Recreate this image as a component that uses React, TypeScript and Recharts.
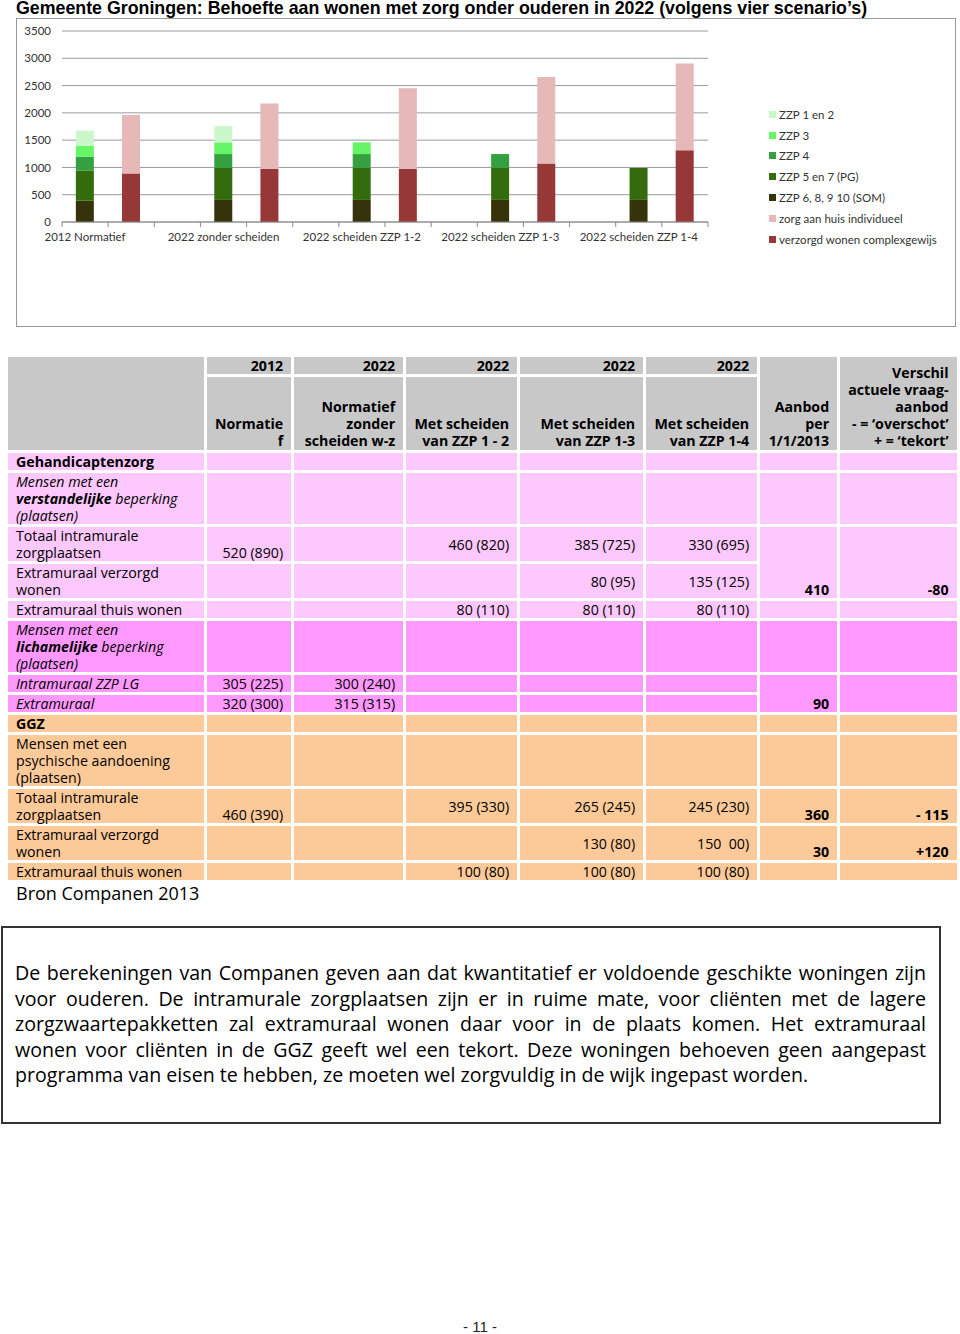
import React from 'react';
import { BarChart, Bar, XAxis, YAxis, CartesianGrid } from 'recharts';

// 14 categories: per scenario a green bar, a red bar and an empty spacer
const categories = [
  '2012 Normatief', '', '',
  '2022 zonder scheiden', '', '',
  '2022 scheiden ZZP 1-2', '', '',
  '2022 scheiden ZZP 1-3', '', '',
  '2022 scheiden ZZP 1-4', '',
];

const zzpSom = [390, 0, 0, 405, 0, 0, 405, 0, 0, 405, 0, 0, 405, 0];
const zzp5en7 = [555, 0, 0, 585, 0, 0, 585, 0, 0, 585, 0, 0, 585, 0];
const zzp4 = [250, 0, 0, 255, 0, 0, 255, 0, 0, 255, 0, 0, 0, 0];
const zzp3 = [205, 0, 0, 215, 0, 0, 215, 0, 0, 0, 0, 0, 0, 0];
const zzp1en2 = [275, 0, 0, 300, 0, 0, 0, 0, 0, 0, 0, 0, 0, 0];
const verzorgdWonen = [0, 890, 0, 0, 970, 0, 0, 970, 0, 0, 1070, 0, 0, 1315];
const zorgAanHuis = [0, 1070, 0, 0, 1200, 0, 0, 1480, 0, 0, 1585, 0, 0, 1590];

const yTicks = [0, 500, 1000, 1500, 2000, 2500, 3000, 3500];

// stacking order, bottom to top
const series = [
  { key: 'som', name: 'ZZP 6, 8, 9 10 (SOM)', color: '#36330a', values: zzpSom },
  { key: 'zzp57', name: 'ZZP 5 en 7 (PG)', color: '#336b0d', values: zzp5en7 },
  { key: 'zzp4', name: 'ZZP 4', color: '#35a040', values: zzp4 },
  { key: 'zzp3', name: 'ZZP 3', color: '#66f566', values: zzp3 },
  { key: 'zzp12', name: 'ZZP 1 en 2', color: '#cbf8cb', values: zzp1en2 },
  { key: 'verzorgd', name: 'verzorgd wonen complexgewijs', color: '#973838', values: verzorgdWonen },
  { key: 'zorg', name: 'zorg aan huis individueel', color: '#e6b8b8', values: zorgAanHuis },
];

const legendOrder = ['zzp12', 'zzp3', 'zzp4', 'zzp57', 'som', 'zorg', 'verzorgd'];

const data = categories.map((label, i) => {
  const row: Record<string, any> = { label };
  series.forEach((s) => (row[s.key] = s.values[i]));
  return row;
});

const CHART_W = 938;
const CHART_H = 307;
const MARGIN = { top: 12, right: 247, left: 10, bottom: 74 };
const Y_W = 35;
const PLOT_W = CHART_W - MARGIN.left - MARGIN.right - Y_W;
const CHART_FONT = 'Lato, "Open Sans", sans-serif';
const CHART_FS = 11.5;

function XTick({ x, y, payload, index }: any) {
  const bw = PLOT_W / categories.length;
  return (
    <g>
      <line x1={x - bw / 2} y1={y} x2={x - bw / 2} y2={y + 5} stroke="#8a8a8a" />
      {index === categories.length - 1 && (
        <line x1={x + bw / 2} y1={y} x2={x + bw / 2} y2={y + 5} stroke="#8a8a8a" />
      )}
      <text x={x} y={y + 19} textAnchor="middle" fontSize={CHART_FS} fill="#333" fontFamily={CHART_FONT}>
        {payload.value}
      </text>
    </g>
  );
}

function ChartLegend() {
  return (
    <div style={{ position: 'absolute', left: 752, top: 85, fontFamily: CHART_FONT, fontSize: CHART_FS, color: '#333' }}>
      {legendOrder.map((k) => {
        const s = series.find((x) => x.key === k)!;
        return (
          <div key={k} style={{ display: 'flex', alignItems: 'center', height: 20.8 }}>
            <span style={{ width: 7, height: 7, background: s.color, marginRight: 3 }} />
            <span>{s.name}</span>
          </div>
        );
      })}
    </div>
  );
}

const SANS = '"Open Sans", "Noto Sans", sans-serif';
const GRAY = '#c8c8c8';
const PINK = '#fdc8fd';
const PINK2 = '#ff99ff';
const PEACH = '#fcc998';

const td = (bg: string, extra: React.CSSProperties = {}): React.CSSProperties => ({
  background: bg,
  padding: '0 8px',
  textAlign: 'right',
  verticalAlign: 'middle',
  whiteSpace: 'pre',
  ...extra,
});
const lbl = (bg: string, extra: React.CSSProperties = {}) => td(bg, { textAlign: 'left', verticalAlign: 'top', ...extra });
const bot = (bg: string, extra: React.CSSProperties = {}) => td(bg, { verticalAlign: 'bottom', ...extra });
const hd = (extra: React.CSSProperties = {}) => td(GRAY, { fontWeight: 700, verticalAlign: 'bottom', ...extra });

function DataTable() {
  const colW = [196, 84, 109, 111, 123, 111, 77, 116];
  return (
    <table
      style={{
        position: 'absolute', left: 5, top: 354, borderCollapse: 'separate', borderSpacing: 3,
        tableLayout: 'fixed', fontFamily: SANS, fontSize: 14.2, lineHeight: '17px', color: '#000',
      }}
    >
      <colgroup>
        {colW.map((w, i) => <col key={i} style={{ width: w }} />)}
      </colgroup>
      <tbody>
        <tr style={{ height: 16 }}>
          <td rowSpan={2} style={td(GRAY)} />
          <td style={hd()}>2012</td>
          <td style={hd()}>2022</td>
          <td style={hd()}>2022</td>
          <td style={hd()}>2022</td>
          <td style={hd()}>2022</td>
          <td rowSpan={2} style={hd({ paddingBottom: 1 })}>Aanbod{'\n'}per{'\n'}1/1/2013</td>
          <td rowSpan={2} style={hd({ paddingBottom: 1 })}>
            Verschil{'\n'}actuele vraag-{'\n'}aanbod{'\n'}- = ‘overschot’{'\n'}+ = ‘tekort’
          </td>
        </tr>
        <tr style={{ height: 73 }}>
          <td style={hd({ paddingBottom: 1 })}>Normatie{'\n'}f</td>
          <td style={hd({ paddingBottom: 1 })}>Normatief{'\n'}zonder{'\n'}scheiden w-z</td>
          <td style={hd({ paddingBottom: 1 })}>Met scheiden{'\n'}van ZZP 1 - 2</td>
          <td style={hd({ paddingBottom: 1 })}>Met scheiden{'\n'}van ZZP 1-3</td>
          <td style={hd({ paddingBottom: 1 })}>Met scheiden{'\n'}van ZZP 1-4</td>
        </tr>

        <tr style={{ height: 16 }}>
          <td style={lbl(PINK, { fontWeight: 700 })}>Gehandicaptenzorg</td>
          {[1, 2, 3, 4, 5, 6, 7].map((i) => <td key={i} style={td(PINK)} />)}
        </tr>
        <tr style={{ height: 51 }}>
          <td style={lbl(PINK, { fontStyle: 'italic' })}>
            Mensen met een{'\n'}<b>verstandelijke</b> beperking{'\n'}(plaatsen)
          </td>
          {[1, 2, 3, 4, 5, 6, 7].map((i) => <td key={i} style={td(PINK)} />)}
        </tr>
        <tr style={{ height: 33 }}>
          <td style={lbl(PINK)}>Totaal intramurale{'\n'}zorgplaatsen</td>
          <td style={bot(PINK)}>520 (890)</td>
          <td style={td(PINK)} />
          <td style={td(PINK)}>460 (820)</td>
          <td style={td(PINK)}>385 (725)</td>
          <td style={td(PINK)}>330 (695)</td>
          <td rowSpan={2} style={bot(PINK, { fontWeight: 700 })}>410</td>
          <td rowSpan={2} style={bot(PINK, { fontWeight: 700 })}>-80</td>
        </tr>
        <tr style={{ height: 34 }}>
          <td style={lbl(PINK)}>Extramuraal verzorgd{'\n'}wonen</td>
          <td style={td(PINK)} />
          <td style={td(PINK)} />
          <td style={td(PINK)} />
          <td style={td(PINK)}>80 (95)</td>
          <td style={td(PINK)}>135 (125)</td>
        </tr>
        <tr style={{ height: 17 }}>
          <td style={lbl(PINK)}>Extramuraal thuis wonen</td>
          <td style={td(PINK)} />
          <td style={td(PINK)} />
          <td style={td(PINK)}>80 (110)</td>
          <td style={td(PINK)}>80 (110)</td>
          <td style={td(PINK)}>80 (110)</td>
          <td style={td(PINK)} />
          <td style={td(PINK)} />
        </tr>

        <tr style={{ height: 51 }}>
          <td style={lbl(PINK2, { fontStyle: 'italic' })}>
            Mensen met een{'\n'}<b>lichamelijke</b> beperking{'\n'}(plaatsen)
          </td>
          {[1, 2, 3, 4, 5, 6, 7].map((i) => <td key={i} style={td(PINK2)} />)}
        </tr>
        <tr style={{ height: 17 }}>
          <td style={lbl(PINK2, { fontStyle: 'italic' })}>Intramuraal ZZP LG</td>
          <td style={td(PINK2)}>305 (225)</td>
          <td style={td(PINK2)}>300 (240)</td>
          <td style={td(PINK2)} />
          <td style={td(PINK2)} />
          <td style={td(PINK2)} />
          <td rowSpan={2} style={bot(PINK2, { fontWeight: 700 })}>90</td>
          <td rowSpan={2} style={td(PINK2)} />
        </tr>
        <tr style={{ height: 17 }}>
          <td style={lbl(PINK2, { fontStyle: 'italic' })}>Extramuraal</td>
          <td style={td(PINK2)}>320 (300)</td>
          <td style={td(PINK2)}>315 (315)</td>
          <td style={td(PINK2)} />
          <td style={td(PINK2)} />
          <td style={td(PINK2)} />
        </tr>

        <tr style={{ height: 17 }}>
          <td style={lbl(PEACH, { fontWeight: 700 })}>GGZ</td>
          {[1, 2, 3, 4, 5, 6, 7].map((i) => <td key={i} style={td(PEACH)} />)}
        </tr>
        <tr style={{ height: 51 }}>
          <td style={lbl(PEACH)}>Mensen met een{'\n'}psychische aandoening{'\n'}(plaatsen)</td>
          {[1, 2, 3, 4, 5, 6, 7].map((i) => <td key={i} style={td(PEACH)} />)}
        </tr>
        <tr style={{ height: 33 }}>
          <td style={lbl(PEACH)}>Totaal intramurale{'\n'}zorgplaatsen</td>
          <td style={bot(PEACH)}>460 (390)</td>
          <td style={td(PEACH)} />
          <td style={td(PEACH)}>395 (330)</td>
          <td style={td(PEACH)}>265 (245)</td>
          <td style={td(PEACH)}>245 (230)</td>
          <td style={bot(PEACH, { fontWeight: 700 })}>360</td>
          <td style={bot(PEACH, { fontWeight: 700 })}>- 115</td>
        </tr>
        <tr style={{ height: 33 }}>
          <td style={lbl(PEACH)}>Extramuraal verzorgd{'\n'}wonen</td>
          <td style={td(PEACH)} />
          <td style={td(PEACH)} />
          <td style={td(PEACH)} />
          <td style={td(PEACH)}>130 (80)</td>
          <td style={td(PEACH)}>150  00)</td>
          <td style={bot(PEACH, { fontWeight: 700 })}>30</td>
          <td style={bot(PEACH, { fontWeight: 700 })}>+120</td>
        </tr>
        <tr style={{ height: 17 }}>
          <td style={lbl(PEACH)}>Extramuraal thuis wonen</td>
          <td style={td(PEACH)} />
          <td style={td(PEACH)} />
          <td style={td(PEACH)}>100 (80)</td>
          <td style={td(PEACH)}>100 (80)</td>
          <td style={td(PEACH)}>100 (80)</td>
          <td style={td(PEACH)} />
          <td style={td(PEACH)} />
        </tr>
      </tbody>
    </table>
  );
}

const paragraph = [
  'De berekeningen van Companen geven aan dat kwantitatief er voldoende geschikte woningen zijn',
  'voor ouderen. De intramurale zorgplaatsen zijn er in ruime mate, voor cliënten met de lagere',
  'zorgzwaartepakketten zal extramuraal wonen daar voor in de plaats komen. Het extramuraal',
  'wonen voor cliënten in de GGZ geeft wel een tekort. Deze woningen behoeven geen aangepast',
  'programma van eisen te hebben, ze moeten wel zorgvuldig in de wijk ingepast worden.',
];

export default function App() {
  return (
    <div style={{ position: 'absolute', left: 0, top: 0, width: 960, height: 1334, background: '#fff', color: '#000' }}>
      <div
        style={{
          position: 'absolute', left: 16, top: -2, fontFamily: '"Liberation Sans", Arial, sans-serif',
          fontWeight: 700, fontSize: 17.8, lineHeight: '20px', color: '#000', whiteSpace: 'nowrap',
        }}
      >
        Gemeente Groningen: Behoefte aan wonen met zorg onder ouderen in 2022 (volgens vier scenario’s)
      </div>

      <div style={{ position: 'absolute', left: 16, top: 18, width: CHART_W, height: CHART_H, border: '1px solid #9a9a9a' }}>
        <BarChart width={CHART_W} height={CHART_H} data={data} margin={MARGIN} barCategoryGap="30%">
          <CartesianGrid vertical={false} stroke="#9a9a9a" />
          <XAxis
            dataKey="label"
            interval={0}
            tickSize={0}
            tickMargin={0}
            stroke="#8a8a8a"
            tick={(p: any) => <XTick {...p} />}
            height={30}
          />
          <YAxis
            width={Y_W}
            domain={[0, 3500]}
            ticks={yTicks}
            axisLine={false}
            tickLine={false}
            tickSize={0}
            tickMargin={11}
            tick={{ fontSize: CHART_FS, fill: '#333', fontFamily: CHART_FONT }}
          />
          {series.map((s) => (
            <Bar key={s.key} dataKey={s.key} name={s.name} stackId="a" fill={s.color} isAnimationActive={false} />
          ))}
        </BarChart>
        <ChartLegend />
      </div>

      <DataTable />

      <div style={{ position: 'absolute', left: 16, top: 881, fontFamily: SANS, fontSize: 18, color: '#000' }}>
        Bron Companen 2013
      </div>

      <div
        style={{
          position: 'absolute', left: 1, top: 926, width: 940, height: 198, boxSizing: 'border-box',
          border: '2px solid #333', padding: '32px 13px 0 12px', fontFamily: SANS, fontSize: 19.6,
          lineHeight: '25.5px', color: '#000',
        }}
      >
        {paragraph.map((line, i) => (
          <div
            key={i}
            style={{ textAlign: 'justify', textAlignLast: i < paragraph.length - 1 ? 'justify' : 'left', whiteSpace: 'nowrap' }}
          >
            {line}
          </div>
        ))}
      </div>

      <div
        style={{
          position: 'absolute', left: 0, width: 960, top: 1318, textAlign: 'center',
          fontFamily: '"Liberation Sans", Arial, sans-serif', fontSize: 15, color: '#222',
        }}
      >
        - 11 -
      </div>
    </div>
  );
}
